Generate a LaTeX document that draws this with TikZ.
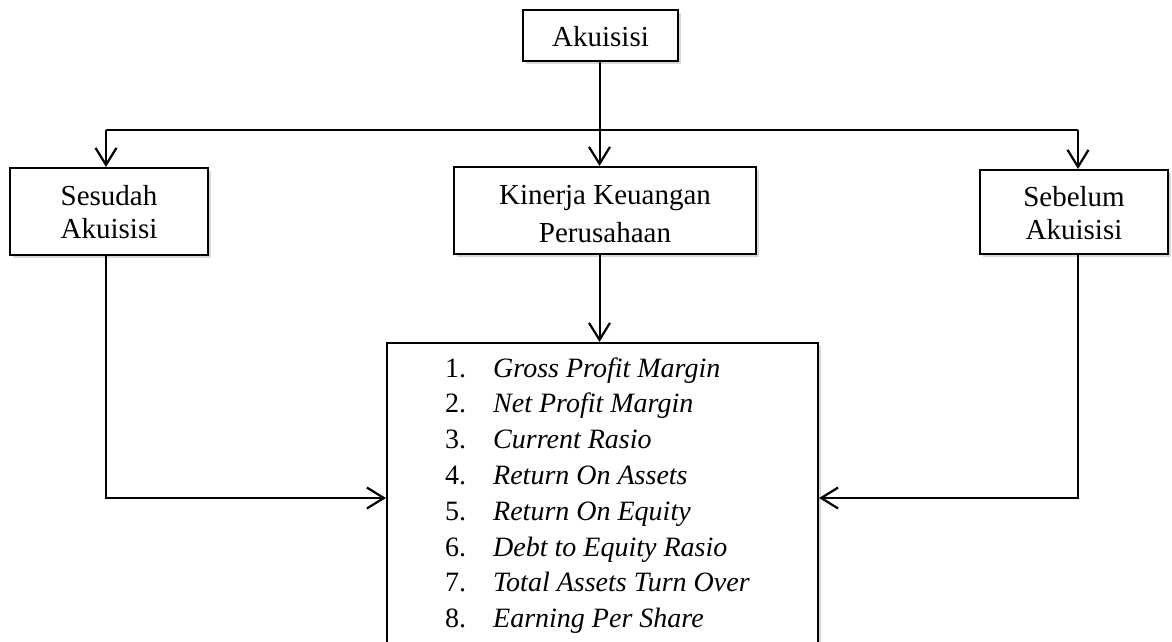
\documentclass[tikz,border=0pt]{standalone}
\usepackage{fontspec}
\setmainfont{Liberation Serif}
\usetikzlibrary{arrows.meta,shadows}
\newcommand{\lowr}[2]{\raisebox{-#1}[\height][\depth]{#2}}
\tikzset{
  box/.style={draw=black, line width=2.1pt, fill=white, align=center, inner sep=0pt,
    drop shadow={shadow xshift=2.5pt, shadow yshift=-2.5pt, opacity=.3, fill=gray}},
  conn/.style={line width=2pt},
  arr/.style={conn, -{Straight Barb[length=17pt,width=21pt,line width=2.2pt]}},
}
\begin{document}
\begin{tikzpicture}[x=1pt,y=-1pt]
\clip (0,0) rectangle (1172,641);
\fill[white] (0,0) rectangle (1172,641);
\fontsize{29}{32}\selectfont
% boxes
\node[box, minimum width=155pt, minimum height=51pt] (akuisisi) at (600.5,35.5) {\lowr{1pt}{Akuisisi}};
\node[box, minimum width=198pt, minimum height=87pt, font=\fontsize{29}{32.5}\selectfont] (sesudah) at (109,211.5) {\lowr{4pt}{\begin{tabular}{@{}c@{}}Sesudah\\Akuisisi\end{tabular}}};
\node[box, minimum width=302pt, minimum height=87pt, font=\fontsize{29}{38}\selectfont] (kinerja) at (605,210.5) {\lowr{5pt}{\begin{tabular}{@{}c@{}}Kinerja Keuangan\\Perusahaan\end{tabular}}};
\node[box, minimum width=188pt, minimum height=84pt, font=\fontsize{29}{33}\selectfont] (sebelum) at (1074,212) {\lowr{4pt}{\begin{tabular}{@{}c@{}}Sebelum\\Akuisisi\end{tabular}}};
\node[box, minimum width=431pt, minimum height=330pt] (list) at (602.5,508) {};
\node[anchor=base west, inner sep=0pt] (items) at (445,377) {\fontsize{28}{35.8}\selectfont
\begin{tabular}[t]{@{}p{48pt}@{}l@{}}
1. & \textit{Gross Profit Margin}\\
2. & \textit{Net Profit Margin}\\
3. & \textit{Current Rasio}\\
4. & \textit{Return On Assets}\\
5. & \textit{Return On Equity}\\
6. & \textit{Debt to Equity Rasio}\\
7. & \textit{Total Assets Turn Over}\\
8. & \textit{Earning Per Share}\\
\end{tabular}};
% bus
\coordinate (bL) at (106,130);
\coordinate (bR) at (1078,130);
\coordinate (jL) at (106,498);
\coordinate (jR) at (1078,498);
\coordinate (mid) at (599.5,130);
\draw[conn] (bL) -- (bR);
\draw[arr] (akuisisi.south -| mid) -- (mid |- kinerja.north);
\draw[arr] (bL) -- (bL |- sesudah.north);
\draw[arr] (bR) -- (bR |- sebelum.north);
\draw[arr] (mid |- kinerja.south) -- (mid |- list.north);
\draw[arr] (bL |- sesudah.south) -- (jL) -- (jL -| list.west);
\draw[arr] (bR |- sebelum.south) -- (jR) -- (jR -| list.east);
\end{tikzpicture}
\end{document}
